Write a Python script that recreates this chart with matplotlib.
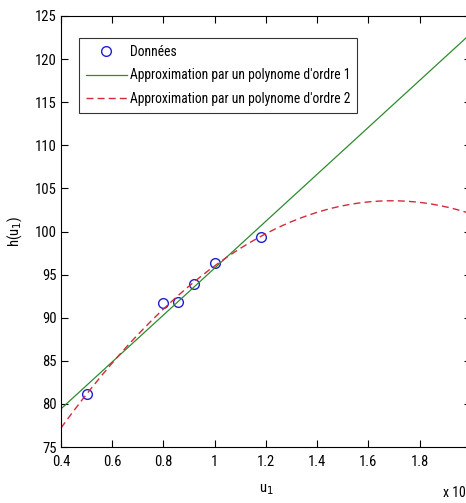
import numpy as np
import matplotlib
matplotlib.use('Agg')
import matplotlib.pyplot as plt
from matplotlib import font_manager

# Pick a narrow sans font if there is one
family = 'Liberation Sans'
for name in ['Liberation Sans Narrow', 'Roboto Condensed', 'Open Sans Condensed']:
    try:
        font_manager.findfont(name, fallback_to_default=False)
        family = name
        break
    except Exception:
        pass
plt.rcParams['font.family'] = [family, 'DejaVu Sans']

# Measured data (u1 in units of 10^4)
u1 = [0.50, 0.80, 0.855, 0.92, 1.00, 1.18]
h = [81.1, 91.7, 91.8, 93.9, 96.4, 99.4]

# Fits of order 1 and 2
p1 = np.polyfit(u1, h, 1)
p2 = np.polyfit(u1, h, 2)
u_fit = np.linspace(0.4, 2.0, 200)

fig = plt.figure(figsize=(4.66, 5.03), dpi=100)
ax = fig.add_axes([0.1309, 0.1113, 0.8798, 0.8569])

ax.plot(u1, h, 'o', color='#2020d0', mfc='none', mew=1.0, ms=7,
        label='Données')
ax.plot(u_fit, np.polyval(p1, u_fit), '-', color='#2e8b2e', lw=0.9,
        label="Approximation par un polynome d'ordre 1")
ax.plot(u_fit, np.polyval(p2, u_fit), '--', color='#d42a3a', lw=1.0,
        dashes=(5, 3), label="Approximation par un polynome d'ordre 2")

ax.set_xlim(0.4, 2.0)
ax.set_ylim(75, 125)
ax.set_xticks([0.4, 0.6, 0.8, 1, 1.2, 1.4, 1.6, 1.8, 2])
ax.set_xticklabels(['0.4', '0.6', '0.8', '1', '1.2', '1.4', '1.6', '1.8', ''])
ax.set_yticks(range(75, 126, 5))
ax.tick_params(direction='in', length=5, width=0.8, labelsize=10.5,
               top=True, right=True)
ax.tick_params(axis='x', pad=6)
ax.tick_params(axis='y', pad=3)

ax.set_xlabel('u$_1$', fontsize=10.5, labelpad=9)
ax.set_ylabel('h(u$_1$)', fontsize=10.5, labelpad=8)

fig.text(0.999, 0.02, 'x 10', fontsize=10, ha='right', va='center')

leg = ax.legend(loc='upper left', bbox_to_anchor=(0.044, 0.949), fontsize=9.8,
                frameon=True, fancybox=False, edgecolor='black',
                handlelength=3.0, handletextpad=0.25, borderpad=0.5,
                labelspacing=0.7, borderaxespad=0)
leg.get_frame().set_linewidth(0.8)

fig.savefig('out.png', dpi=100)
